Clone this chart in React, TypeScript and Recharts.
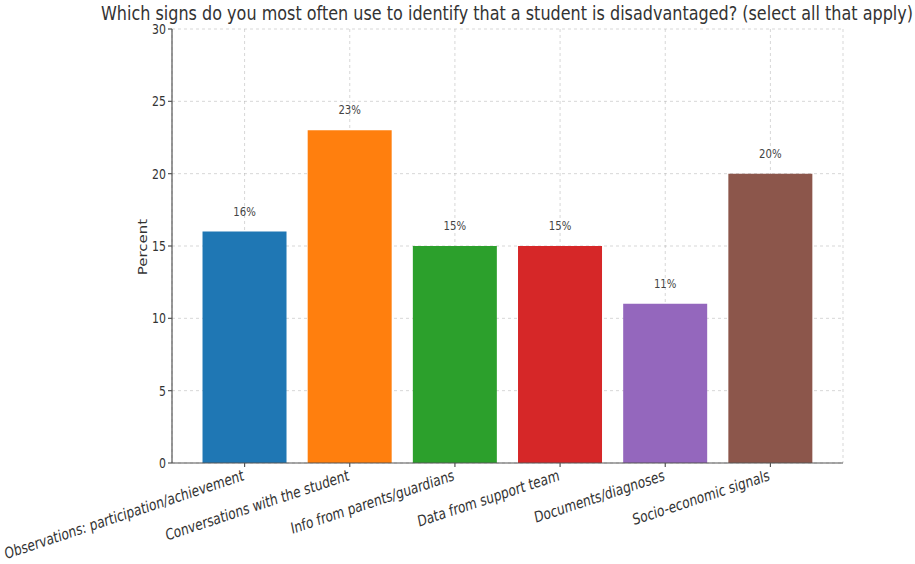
import React from "react";
import { BarChart, Bar, XAxis, YAxis, CartesianGrid, Cell, LabelList } from "recharts";

const categories = [
  "Observations: participation/achievement",
  "Conversations with the student",
  "Info from parents/guardians",
  "Data from support team",
  "Documents/diagnoses",
  "Socio-economic signals",
];
const percents = [16, 23, 15, 15, 11, 20];
const colors = ["#1f77b4", "#ff7f0e", "#2ca02c", "#d62728", "#9467bd", "#8c564b"];
const yTicks = [0, 5, 10, 15, 20, 25, 30];
const title = "Which signs do you most often use to identify that a student is disadvantaged? (select all that apply)";
const yLabel = "Percent";

const data = categories.map((c, i) => ({ name: c, value: percents[i] }));

const S = 0.78;
const FONT = "DejaVu Sans, sans-serif";

const XTick = (props: any) => {
  const { x, y, payload } = props;
  return (
    <g transform={`translate(${x},${y + 11}) scale(${S},1) rotate(-14.5)`}>
      <text textAnchor="end" fontSize={15.5} fill="#333" fontFamily={FONT}>
        {payload.value}
      </text>
    </g>
  );
};

const YTick = (props: any) => {
  const { x, y, payload } = props;
  return (
    <g transform={`translate(${x},${y}) scale(${S},1)`}>
      <text textAnchor="end" dominantBaseline="central" fontSize={14} fill="#333" fontFamily={FONT}>
        {payload.value}
      </text>
    </g>
  );
};

const BarLabel = (props: any) => {
  const { x, y, width, value } = props;
  return (
    <g transform={`translate(${x + width / 2},${y - 16}) scale(${S},1)`}>
      <text textAnchor="middle" fontSize={13} fill="#444" fontFamily={FONT}>
        {`${value}%`}
      </text>
    </g>
  );
};

export default function App() {
  return (
    <div style={{ position: "absolute", left: 0, top: 0, width: 915, height: 564, background: "#fff" }}>
      <BarChart
        width={915}
        height={564}
        data={data}
        margin={{ top: 29, right: 72, left: 0, bottom: 0 }}
        barCategoryGap="10%"
      >
        <XAxis
          dataKey="name"
          height={101}
          interval={0}
          padding={{ left: 20, right: 20 }}
          tick={<XTick />}
          tickSize={4}
          tickMargin={2}
          stroke="#555"
          strokeWidth={1.2}
        />
        <YAxis
          width={172}
          domain={[0, 30]}
          ticks={yTicks}
          tick={<YTick />}
          tickSize={4}
          tickMargin={2}
          stroke="#555"
          strokeWidth={1.2}
        />
        <Bar dataKey="value" isAnimationActive={false}>
          {data.map((d, i) => (
            <Cell key={d.name} fill={colors[i]} />
          ))}
          <LabelList dataKey="value" content={<BarLabel />} />
        </Bar>
        <CartesianGrid stroke="#b0b0b0" strokeOpacity={0.5} strokeDasharray="3 3" />
        <text
          x={507}
          y={20}
          textAnchor="middle"
          fontSize={20}
          fill="#333"
          fontFamily={FONT}
          textLength={812}
          lengthAdjust="spacingAndGlyphs"
        >
          {title}
        </text>
        <g transform={`translate(143,247) scale(${S},1) rotate(-90)`}>
          <text
            textAnchor="middle"
            dominantBaseline="central"
            fontSize={15}
            fill="#333"
            fontFamily={FONT}
          >
            {yLabel}
          </text>
        </g>
      </BarChart>
    </div>
  );
}
